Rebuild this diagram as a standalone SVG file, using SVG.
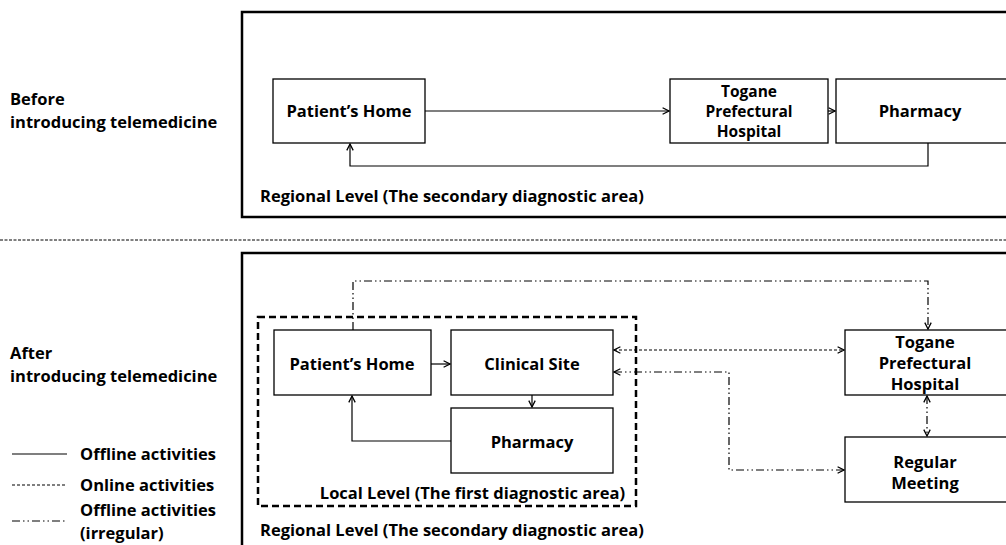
<svg xmlns="http://www.w3.org/2000/svg" width="1006" height="545" viewBox="0 0 1006 545">
<defs>
<marker id="ah" viewBox="0 0 10 10" refX="9" refY="5" markerWidth="8" markerHeight="8" markerUnits="userSpaceOnUse" orient="auto-start-reverse">
<path d="M1,1 L9,5 L1,9" fill="none" stroke="#000" stroke-width="1.6"/>
</marker>
<style>
text{font-family:"Open Sans","Noto Sans",sans-serif;font-weight:700;font-size:16.5px;fill:#000}
.mid{text-anchor:middle}
.tight{font-size:15.5px}
.box{fill:#fff;stroke:#000;stroke-width:1.3}
.frame{fill:none;stroke:#000;stroke-width:2.5}
.solid{fill:none;stroke:#000;stroke-width:1.2}
.online{fill:none;stroke:#000;stroke-width:1.2;stroke-dasharray:3 2}
.irreg{fill:none;stroke:#000;stroke-width:1.2;stroke-dasharray:8 3 1.5 3 1.5 3}
</style>
</defs>
<rect width="1006" height="545" fill="#fff"/>

<g id="labels">
<text x="10" y="105">Before</text>
<text x="10" y="128">introducing telemedicine</text>
<text x="10" y="359">After</text>
<text x="10" y="382">introducing telemedicine</text>
</g>

<line x1="0" y1="240" x2="1006" y2="240" stroke="#000" stroke-width="1" stroke-dasharray="3 1.5"/>

<g id="legend">
<line x1="12" y1="454" x2="67" y2="454" class="solid"/>
<text x="80" y="460">Offline activities</text>
<line x1="12" y1="485" x2="67" y2="485" class="online" stroke-width="1"/>
<text x="80" y="491">Online activities</text>
<line x1="12" y1="521" x2="67" y2="521" class="irreg" stroke-width="1"/>
<text x="80" y="516">Offline activities</text>
<text x="80" y="539">(irregular)</text>
</g>

<g id="before-frame">
<rect x="242" y="12" width="780" height="205" class="frame"/>
<text x="260" y="202">Regional Level (The secondary diagnostic area)</text>
</g>

<g id="after-frame">
<rect x="242" y="253" width="780" height="310" class="frame"/>
<text x="260" y="536">Regional Level (The secondary diagnostic area)</text>
</g>

<g id="local-frame">
<rect x="258" y="317" width="378" height="189" fill="none" stroke="#000" stroke-width="2.5" stroke-dasharray="7 4"/>
<text x="625" y="499" text-anchor="end">Local Level (The first diagnostic area)</text>
</g>

<g id="connectors">
<path d="M425,111 H669" class="solid" marker-end="url(#ah)"/>
<path d="M828,111 H835" class="solid" marker-end="url(#ah)"/>
<path d="M928,143 V166 H350 V144" class="solid" marker-end="url(#ah)"/>

<path d="M431,364 H450" class="solid" marker-end="url(#ah)"/>
<path d="M532,395 V407" class="solid" marker-end="url(#ah)"/>
<path d="M451,441 H352 V396" class="solid" marker-end="url(#ah)"/>

<path d="M353,330 V281 H928 V329" class="irreg" marker-end="url(#ah)"/>
<path d="M614,350 H844" class="online" marker-start="url(#ah)" marker-end="url(#ah)"/>
<path d="M614,372 H729 V470 H844" class="irreg" marker-start="url(#ah)" marker-end="url(#ah)"/>
<path d="M927,396 V436" class="irreg" marker-start="url(#ah)" marker-end="url(#ah)"/>
</g>

<g id="before-home">
<rect x="273" y="79" width="152" height="64" class="box"/>
<text x="349" y="117" class="mid">Patient’s Home</text>
</g>
<g id="before-togane">
<rect x="670" y="79" width="158" height="64" class="box"/>
<text x="749" y="97" class="mid tight">Togane</text>
<text x="749" y="117" class="mid tight">Prefectural</text>
<text x="749" y="137" class="mid tight">Hospital</text>
</g>
<g id="before-pharmacy">
<rect x="836" y="79" width="180" height="64" class="box"/>
<text x="920" y="117" class="mid">Pharmacy</text>
</g>

<g id="after-home">
<rect x="274" y="330" width="157" height="65" class="box"/>
<text x="352" y="370" class="mid">Patient’s Home</text>
</g>
<g id="after-clinical">
<rect x="451" y="330" width="162" height="65" class="box"/>
<text x="532" y="370" class="mid">Clinical Site</text>
</g>
<g id="after-pharmacy">
<rect x="451" y="408" width="162" height="65" class="box"/>
<text x="532" y="448" class="mid">Pharmacy</text>
</g>
<g id="after-togane">
<rect x="845" y="330" width="170" height="65" class="box"/>
<text x="925" y="348" class="mid">Togane</text>
<text x="925" y="369" class="mid">Prefectural</text>
<text x="925" y="390" class="mid">Hospital</text>
</g>
<g id="after-meeting">
<rect x="845" y="437" width="170" height="65" class="box"/>
<text x="925" y="468" class="mid">Regular</text>
<text x="925" y="489" class="mid">Meeting</text>
</g>
</svg>
